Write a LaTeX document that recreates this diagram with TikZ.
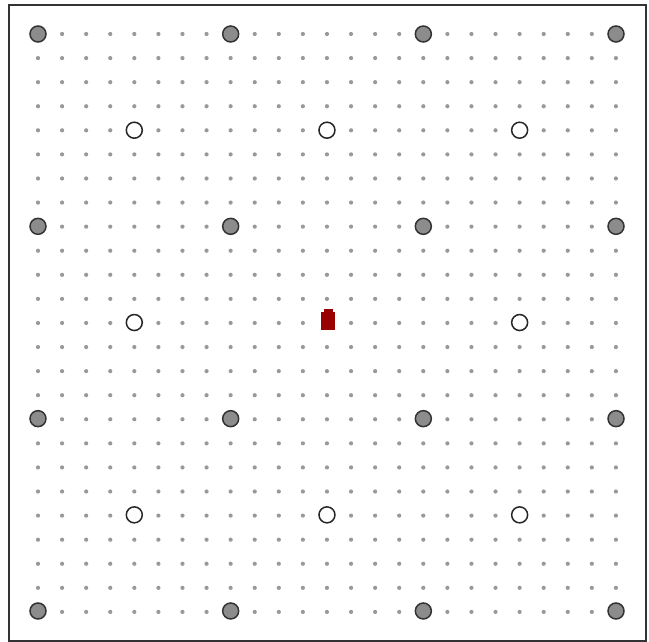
\documentclass[tikz,border=0pt]{standalone}
\begin{document}
\begin{tikzpicture}[x=1pt,y=-1pt,
  griddot/.style={circle,fill=black!40,inner sep=0pt,minimum size=4.2pt},
  anchorpt/.style={circle,draw=black!80,line width=1.5pt,fill=black!45,inner sep=0pt,minimum size=16pt},
  openpt/.style={circle,draw=black!85,line width=1.5pt,fill=white,inner sep=0pt,minimum size=16pt},
  frame/.style={draw=black!80,line width=1.3pt}]
\useasboundingbox (0,0) rectangle (649,642);
\fill[white] (0,0) rectangle (649,642);
\draw[frame] (9,5) rectangle (646,641);
% small grid dots
\foreach \i in {0,...,24}{
  \foreach \j in {0,...,24}{
    \node[griddot] (d\i-\j) at ({38+\i*24.08},{34+\j*24.08}) {};
  }
}
% gray anchor circles
\foreach \i in {0,1,2,3}{
  \foreach \j in {0,1,2,3}{
    \node[anchorpt] (g\i-\j) at ({38+\i*192.67},{34+\j*192.33}) {};
  }
}
% white circles
\foreach \i/\j in {0/0,1/0,2/0,0/1,2/1,0/2,1/2,2/2}{
  \node[openpt] (w\i-\j) at ({134.3+\i*192.67},{130.2+\j*192.33}) {};
}
% red marker
\fill[white] (317,303) rectangle (339,333);
\fill[red!60!black] (323.5,308.5) rectangle (332.5,313);
\fill[red!60!black] (321,312) rectangle (335,330);
\end{tikzpicture}
\end{document}
